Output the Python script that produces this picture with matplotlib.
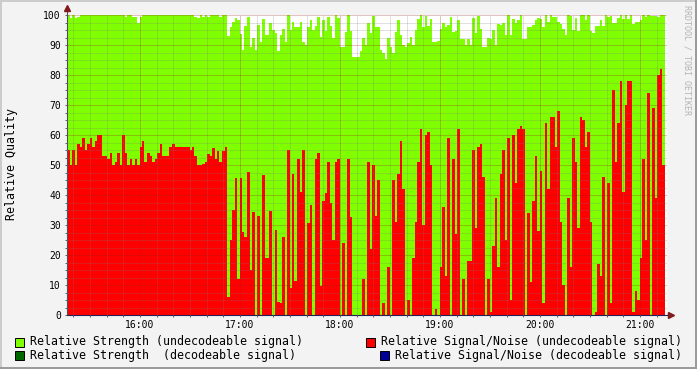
import numpy as np
import matplotlib
matplotlib.use('Agg')
import matplotlib.pyplot as plt
from matplotlib.patches import Rectangle
from matplotlib.ticker import MultipleLocator

# time base: first sample at 15:16, one sample every 90 s
start_hour = 15 + 16.2 / 60
step_hours = 1.5 / 60

# Relative Strength (undecodeable signal), 0..100
strength_undec = [
    100, 99, 100, 99, 99.5, 100, 100, 100, 100, 100,
    100, 100, 100, 100, 100, 100, 100, 100, 100, 100,
    100, 100, 100, 99.5, 100, 100, 99.3, 99.3, 97.2, 99.3,
    100, 100, 100, 100, 100, 100, 100, 100, 100, 100,
    100, 100, 100, 100, 100, 100, 100, 100, 100, 100,
    100, 99.5, 99, 100, 99.3, 100, 99.5, 100, 100, 100,
    100, 99.5, 100, 100, 93, 96, 97.7, 98.9, 98.3, 93.7,
    88.3, 96.3, 99.2, 89.4, 92.2, 88.3, 96.7, 91.1, 98.6, 93.3,
    93.3, 97.4, 95, 94.1, 88.1, 93.3, 95.2, 91.1, 100, 95,
    97.8, 96.1, 95.9, 97.8, 91.1, 90, 96.1, 98.3, 95, 96.3,
    99.4, 92.8, 98.3, 94.8, 99.5, 96.3, 92.2, 100, 99, 89.2,
    89.2, 94.4, 100, 94.8, 86.1, 86.1, 86.1, 88, 92.2, 90,
    97.4, 93.9, 99.7, 96.1, 96.1, 88.3, 87.2, 85.2, 92.2, 89.4,
    87.2, 94.4, 98.3, 93.3, 90, 89.4, 90.6, 92.8, 90, 95,
    98.6, 100, 96.1, 99.7, 96.3, 98.6, 91.1, 91.1, 91.5, 95.2,
    97.2, 96.1, 96.6, 99.4, 94.4, 94.8, 98.3, 92, 91.9, 90,
    91.9, 90, 98.9, 94.1, 99.7, 95.5, 89.2, 89.2, 92.2, 91.9,
    95, 90, 97, 96.7, 97.4, 93.3, 100, 93.3, 98.6, 97.4,
    98.3, 100, 91.9, 91.9, 96.1, 96.1, 96.7, 98.3, 98.9, 98.6,
    96.1, 100, 97.8, 100, 99.4, 99.2, 97.8, 97, 95.5, 93.3,
    100, 99.7, 95, 98.9, 94.8, 100, 100, 98.3, 100, 94.8,
    94.1, 96.3, 96.3, 98.3, 96.3, 100, 99.2, 99.8, 97.4, 97.2,
    98.9, 100, 98.6, 100, 98.6, 100, 97, 97.8, 97.8, 98.3,
    100, 99.2, 100, 99.7, 99.7, 99.7, 99.2, 100, 100,
]

# Relative Signal/Noise (undecodeable signal), 0..100
snr_undec = [
    55, 50, 55, 50, 57, 56, 59, 55, 57, 59,
    56, 58, 60, 60, 53, 53, 52, 54, 50, 51,
    54, 50, 60, 54, 50, 52, 50, 52, 50, 56,
    58, 51, 54, 53, 51, 52, 54, 57, 53, 53,
    53, 56, 57, 56, 56, 56, 56, 56, 56, 55,
    56, 53, 50, 50, 50.5, 51, 53.7, 53, 55.8, 52,
    54.7, 51, 54.7, 56, 6, 25, 35, 45.6, 12, 45.6,
    27.8, 26, 47.7, 15, 34.4, 0, 33, 0, 46.7, 18.9,
    19, 34.7, 0, 28.3, 4.5, 4.1, 26, 0, 55, 9,
    47, 11.4, 52, 41, 55, 0, 30.8, 36.7, 0, 52,
    54, 9.8, 38, 40.8, 50.9, 37.4, 25, 51, 52, 0,
    24, 0, 52, 32.6, 0, 0, 0, 0, 12, 0,
    51, 22, 50, 33, 45, 0, 4, 0, 16, 0,
    45, 31, 47, 58, 42, 0, 5, 0, 19, 31,
    51, 62, 30, 60, 61, 50, 0, 2, 0, 16,
    36, 13, 59, 0, 52, 27, 62, 0, 12, 0,
    18, 18, 55, 29, 56, 57, 46, 0, 12, 1,
    23, 39, 16, 47, 55, 25, 59, 5, 60, 44,
    62, 63, 62, 0, 34, 11, 38, 53, 28, 48,
    4, 64, 42, 66, 66, 56, 68, 31, 10, 0,
    39, 16, 59, 51, 29, 66, 65, 56, 61, 31,
    0, 1, 17, 13, 46, 0, 44, 4, 75, 51,
    64, 78, 41, 70, 78, 78, 1, 8, 5, 19,
    52, 25, 74, 0, 69, 39, 80, 82, 50,
]

hour_ticks = [16, 17, 18, 19, 20, 21]
hour_labels = ['16:00', '17:00', '18:00', '19:00', '20:00', '21:00']

legend_labels = [
    'Relative Strength (undecodeable signal)',
    'Relative Signal/Noise (undecodeable signal)',
    'Relative Strength  (decodeable signal)',
    'Relative Signal/Noise (decodeable signal)',
]
legend_colors = ['#80ff00', '#ff0000', '#006600', '#000099']

mono = 'DejaVu Sans Mono'
W, H = 697, 369

fig = plt.figure(figsize=(W / 100, H / 100), dpi=100, facecolor='#f3f3f3')
ax = fig.add_axes([67 / W, 1 - 315 / H, 600 / W, 300 / H])
ax.set_facecolor('white')

edges = start_hour + step_hours * np.arange(len(snr_undec) + 1)
ax.stairs(strength_undec, edges, fill=True, color=legend_colors[0], baseline=0, lw=0)
ax.stairs(snr_undec, edges, fill=True, color=legend_colors[1], baseline=0, lw=0)

x_end = start_hour + 6.0
ax.set_xlim(start_hour, x_end)
ax.set_ylim(0, 100)

ax.set_xticks(hour_ticks, hour_labels)
ax.xaxis.set_minor_locator(MultipleLocator(1 / 6))
ax.yaxis.set_major_locator(MultipleLocator(10))
ax.yaxis.set_minor_locator(MultipleLocator(2.5))

ax.set_axisbelow(False)
ax.grid(which='minor', color='#7a7a7a', alpha=0.45, linestyle=(0, (1, 1)), linewidth=0.72)
ax.grid(which='major', color='#9a2020', alpha=0.55, linestyle=(0, (1, 1)), linewidth=0.72)

ax.tick_params(which='both', direction='out', length=1.6, width=0.7, color='#606060')
ax.tick_params(axis='y', labelsize=7, pad=2.9)
ax.tick_params(axis='x', labelsize=7, pad=2.2)
for lab in ax.get_xticklabels() + ax.get_yticklabels():
    lab.set_family(mono)

for s in ['top', 'right']:
    ax.spines[s].set_visible(False)
ax.spines['left'].set_color('#50505a')
ax.spines['bottom'].set_color('#22225a')

# rrdtool style axis arrows
arrow_c = '#801b1b'
ax.plot([start_hour, start_hour], [100, 102.3], color='#50505a', lw=0.8, clip_on=False)
ax.plot([start_hour], [102.3], marker='^', ms=4.5, color=arrow_c, mec=arrow_c, clip_on=False)
ax.plot([x_end, x_end + 0.035], [0, 0], color='#22225a', lw=0.8, clip_on=False)
ax.plot([x_end + 0.035], [0], marker='>', ms=4.5, color=arrow_c, mec=arrow_c, clip_on=False)

fig.text(12 / W, 1 - 164 / H, 'Relative Quality', rotation=90, ha='center', va='center',
         fontsize=8.4, family=mono)
fig.text(687 / W, 1 - 60 / H, 'RRDTOOL / TOBI OETIKER', rotation=270, ha='center', va='center',
         fontsize=6, family=mono, color='#b4b4b4')

# legend, justified like rrdtool does
legend_pos = [(15, 342), (366, 342), (15, 355.5), (380, 355.5)]
for (px, py), lab, col in zip(legend_pos, legend_labels, legend_colors):
    fig.add_artist(Rectangle((px / W, 1 - (py + 4.5) / H), 9 / W, 9 / H,
                             transform=fig.transFigure, facecolor=col,
                             edgecolor='black', lw=0.7))
    fig.text((px + 15) / W, 1 - py / H, lab, ha='left', va='center',
             fontsize=8.4, family=mono)

# 3D frame
fig.add_artist(plt.Line2D([0, 1], [1 - 0.5 / H, 1 - 0.5 / H], transform=fig.transFigure,
                          color='#cbcbcb', lw=1.4))
fig.add_artist(plt.Line2D([0.5 / W, 0.5 / W], [0, 1], transform=fig.transFigure,
                          color='#cbcbcb', lw=1.4))
fig.add_artist(plt.Line2D([0, 1], [0.7 / H, 0.7 / H], transform=fig.transFigure,
                          color='#999999', lw=1.4))
fig.add_artist(plt.Line2D([1 - 0.7 / W, 1 - 0.7 / W], [0, 1], transform=fig.transFigure,
                          color='#999999', lw=1.4))

fig.savefig('out.png', dpi=100, facecolor=fig.get_facecolor())
